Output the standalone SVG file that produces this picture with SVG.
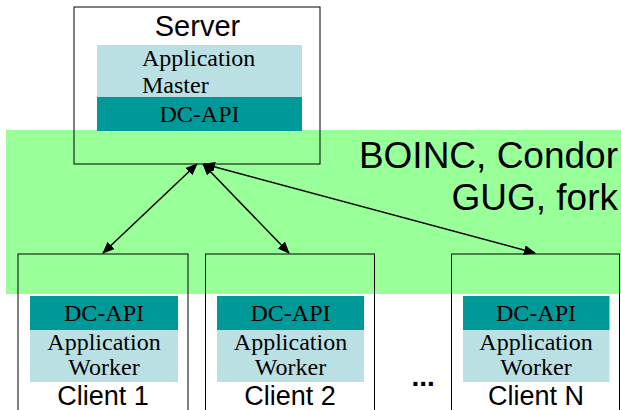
<svg xmlns="http://www.w3.org/2000/svg" width="621" height="410" viewBox="0 0 621 410">
<style>
.box{fill:none;stroke:#000;stroke-width:1}
.app{fill:#BBE0E3}
.dc{fill:#009999}
.tnr{font-family:"Liberation Serif","Times New Roman",serif;font-size:24px;fill:#000}
.ar{font-family:"Liberation Sans",Arial,sans-serif;fill:#000}
.cl{font-size:27px;text-anchor:middle}
.conn{stroke:#000;stroke-width:1.5;fill:none;marker-start:url(#ah);marker-end:url(#ah)}
</style>
<defs>
<marker id="ah" markerWidth="12" markerHeight="10" refX="11" refY="5" orient="auto-start-reverse" markerUnits="userSpaceOnUse">
<path d="M0,0 L12,5 L0,10 Z" fill="#000"/>
</marker>
</defs>
<rect id="middleware" x="6" y="130" width="615" height="164" fill="#99FF99"/>
<text class="ar" x="618" y="168" font-size="37" text-anchor="end">BOINC, Condor</text>
<text class="ar" x="618" y="210" font-size="37" text-anchor="end">GUG, fork</text>
<g id="server">
<rect class="box" x="74" y="7" width="246" height="157"/>
<text class="ar" x="197.5" y="36" font-size="29" text-anchor="middle">Server</text>
<rect class="app" x="97" y="45" width="205" height="52"/>
<rect class="dc" x="97" y="97" width="205" height="34"/>
<text class="tnr" x="142" y="66">Application</text>
<text class="tnr" x="142" y="93">Master</text>
<text class="tnr" x="199.5" y="122" text-anchor="middle">DC-API</text>
</g>
<g id="client1">
<rect class="box" x="18" y="254" width="170" height="170"/>
<rect class="dc" x="30" y="296" width="148" height="34"/>
<rect class="app" x="30" y="330" width="148" height="52"/>
<text class="tnr" x="104" y="321" text-anchor="middle">DC-API</text>
<text class="tnr" x="104" y="349.5" text-anchor="middle">Application</text>
<text class="tnr" x="104" y="375" text-anchor="middle">Worker</text>
<text class="ar cl" x="103" y="404.5">Client 1</text>
</g>
<g id="client2">
<rect class="box" x="205.5" y="254" width="169" height="170"/>
<rect class="dc" x="217" y="296" width="147" height="34"/>
<rect class="app" x="217" y="330" width="147" height="52"/>
<text class="tnr" x="290.5" y="321" text-anchor="middle">DC-API</text>
<text class="tnr" x="290.5" y="349.5" text-anchor="middle">Application</text>
<text class="tnr" x="290.5" y="375" text-anchor="middle">Worker</text>
<text class="ar cl" x="290" y="404.5">Client 2</text>
</g>
<text id="ellipsis" class="ar" x="411.5" y="386" font-size="28" font-weight="bold">...</text>
<g id="clientN">
<rect class="box" x="451.5" y="254" width="168" height="170"/>
<rect class="dc" x="463" y="296" width="146.5" height="34"/>
<rect class="app" x="463" y="330" width="146.5" height="52"/>
<text class="tnr" x="536" y="321" text-anchor="middle">DC-API</text>
<text class="tnr" x="536" y="349.5" text-anchor="middle">Application</text>
<text class="tnr" x="536" y="375" text-anchor="middle">Worker</text>
<text class="ar cl" x="536" y="404.5">Client N</text>
</g>
<g id="connectors">
<line class="conn" x1="197" y1="164" x2="103" y2="253"/>
<line class="conn" x1="203" y1="164" x2="289" y2="253"/>
<line class="conn" x1="204" y1="164" x2="535" y2="253"/>
</g>
</svg>
